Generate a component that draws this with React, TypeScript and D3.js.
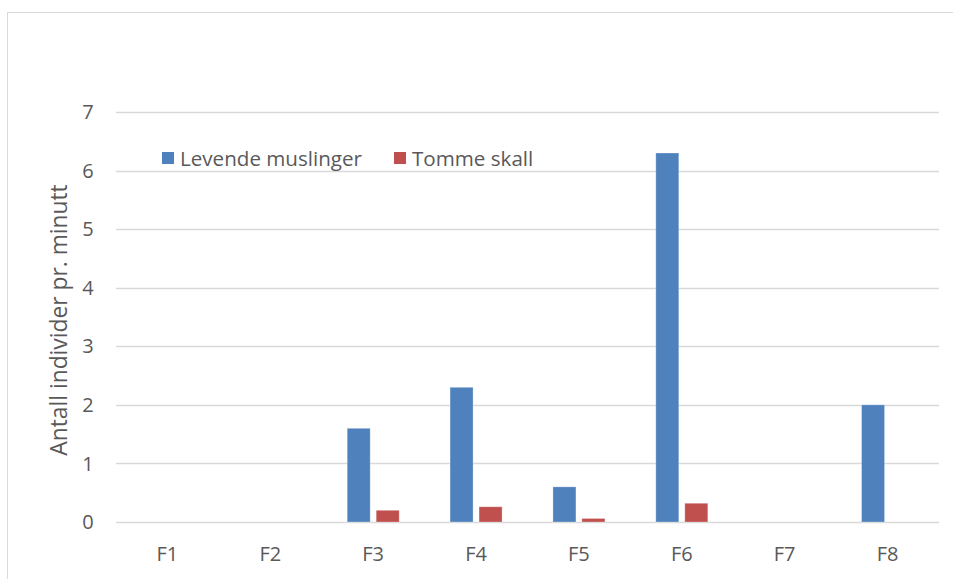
import React from "react";
import * as d3 from "d3";

const categories = ["F1", "F2", "F3", "F4", "F5", "F6", "F7", "F8"];
const levende = [0, 0, 1.6, 2.3, 0.6, 6.3, 0, 2.0];
const tomme = [0, 0, 0.2, 0.26, 0.06, 0.32, 0, 0];
const seriesNames = ["Levende muslinger", "Tomme skall"];
const seriesColors = ["#4F81BD", "#C0504D"];
const yTicks = [0, 1, 2, 3, 4, 5, 6, 7];
const yTitle = "Antall individer pr. minutt";

const FONT = "'Open Sans', 'Noto Sans', sans-serif";
const TEXT = "#595959";

export default function App() {
  const W = 953, H = 579;
  const x = d3.scaleBand<string>().domain(categories).range([116, 939]).padding(0);
  const inner = d3.scaleBand<string>().domain(seriesNames).range([-26, 26]).paddingInner(0.2069).paddingOuter(0);
  const y = d3.scaleLinear().domain([0, 7]).range([522, 112]);
  const seriesData = [levende, tomme];

  return (
    <svg width={W} height={H} style={{ position: "absolute", left: 0, top: 0, background: "#fff" }} fontFamily={FONT}>
      <rect x={0} y={0} width={W} height={H} fill="#fff" />
      <rect x={7.5} y={12.5} width={1000} height={1000} fill="#fff" stroke="#D9D9D9" strokeWidth={1} />
      {yTicks.map((t) => (
        <g key={t}>
          <line x1={116} x2={939} y1={Math.round(y(t)) + 0.5} y2={Math.round(y(t)) + 0.5} stroke="#D9D9D9" strokeWidth={1.5} />
          <text x={88} y={y(t)} dy="0.36em" textAnchor="middle" fontSize={20} fill={TEXT}>{t}</text>
        </g>
      ))}
      {seriesData.map((vals, si) => (
        <g key={si}>
          {vals.map((v, i) => {
            if (v <= 0) return null;
            const cx = (x(categories[i]) as number) + x.bandwidth() / 2;
            const bx = cx + (inner(seriesNames[si]) as number);
            return (
              <rect key={i} x={bx} y={y(v)} width={inner.bandwidth()} height={y(0) - y(v)}
                fill={seriesColors[si]} stroke="#ffffff" strokeOpacity={0.35} strokeWidth={0.8} />
            );
          })}
        </g>
      ))}
      {categories.map((c) => (
        <text key={c} x={(x(c) as number) + x.bandwidth() / 2} y={561} textAnchor="middle" fontSize={20} fill={TEXT}>{c}</text>
      ))}
      <text transform={`translate(67,320) rotate(-90)`} textAnchor="middle" fontSize={22.8} fill={TEXT}>{yTitle}</text>
      {seriesNames.map((s, i) => {
        const lx = [162, 394][i];
        return (
          <g key={s}>
            <rect x={lx} y={152} width={12} height={12} fill={seriesColors[i]} />
            <text x={lx + 18} y={166} fontSize={20.6} fill={TEXT}>{s}</text>
          </g>
        );
      })}
    </svg>
  );
}
